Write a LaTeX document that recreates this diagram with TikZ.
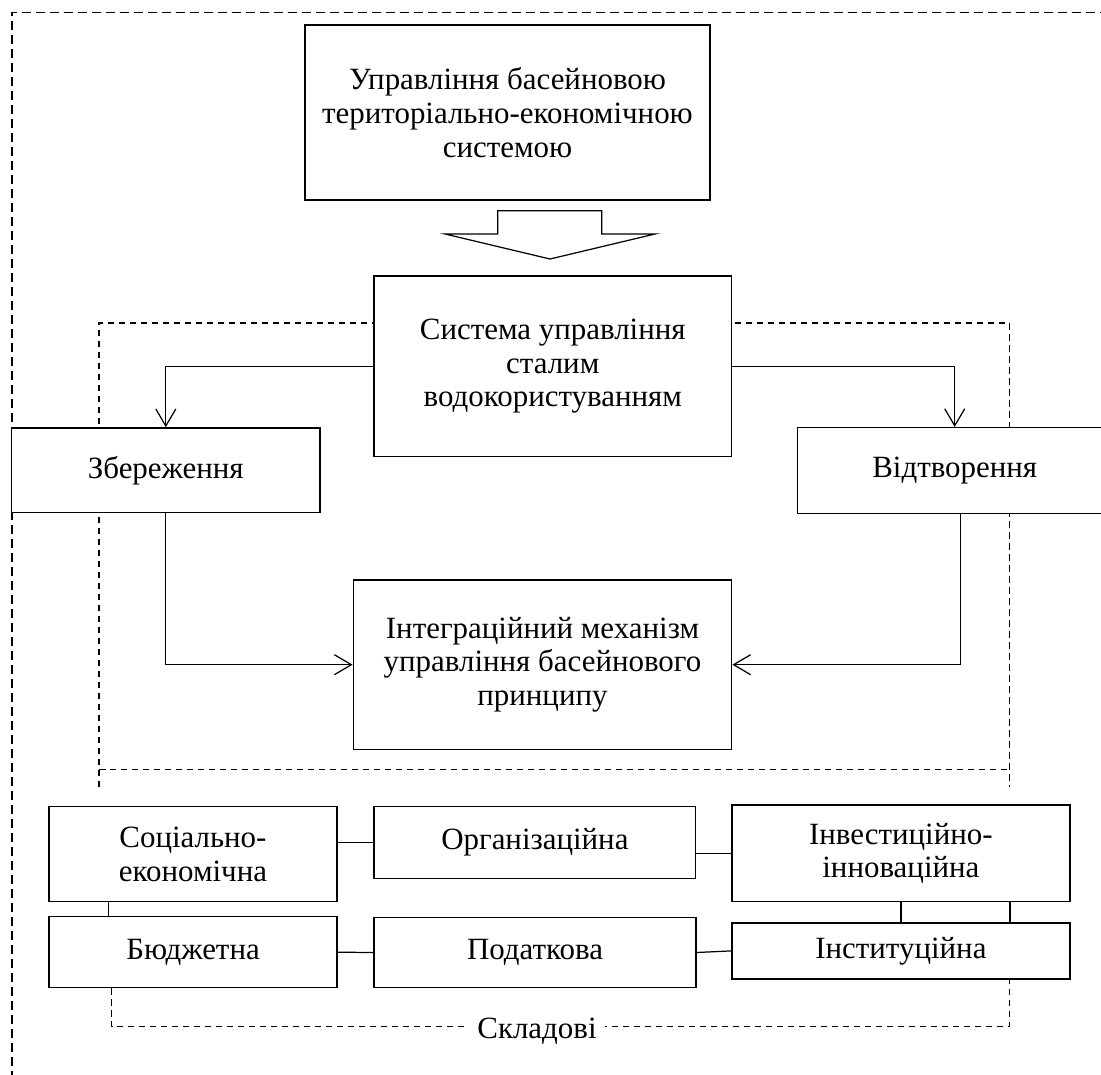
\documentclass[tikz,border=0pt]{standalone}
\usepackage{fontspec}
\setmainfont{Liberation Serif}
\usetikzlibrary{arrows.meta,positioning}
\tikzset{
  box/.style={draw, line width=0.85pt, fill=white, align=center, inner sep=0pt},
  link/.style={line width=0.7pt},
  tip/.style={-{Straight Barb[length=0.34cm,width=0.4cm,line width=0.7pt]}},
  frame/.style={line width=0.7pt, dash pattern=on 0.13cm off 0.09cm},
  outframe/.style={line width=0.6pt, dash pattern=on 0.18cm off 0.1cm}
}
\begin{document}
\begin{tikzpicture}[x=0.02cm,y=-0.02cm,font=\fontsize{17.6}{19.2}\selectfont]
        \useasboundingbox (0,0) rectangle (1101,1074);
        \clip (0,0) rectangle (1101,1074);
        % dashed frames
        \draw[outframe] (12,1080) -- (12,12.7) -- (1110,12.7);
        \draw[frame] (99,787) -- (99,323) -- (1009.3,323) -- (1009.3,787);
        \draw[frame] (99,769.5) -- (1009.3,769.5);
        \draw[frame] (111.7,988) -- (111.7,1026.7) -- (1009.3,1026.7) -- (1009.3,979);
        \node[fill=white, inner xsep=0.16cm, inner ysep=0pt] (sklad) at (537,1031) {Складові};
        % top part
        \node[box, minimum width=8.1cm, minimum height=3.5cm] (upr) at (507.5,112.5) {Управління басейновою\\територіально-економічною\\системою};
        \draw[link, fill=white] (497.7,210.7) -- (601.7,210.7) -- (601.7,234) -- (655,234) -- (550,259) -- (445,234) -- (497.7,234) -- cycle;
        \node[box, minimum width=7.154cm, minimum height=3.614cm] (sys) at (552.8,366.3) {Система управління\\сталим\\водокористуванням};
        \node[box, minimum width=6.166cm, minimum height=1.694cm] (zber) at (165.8,470.3) {Збереження};
        \node[box, minimum width=6.28cm, minimum height=1.712cm] (vidtv) at (954.7,470.5) {Відтворення};
        \node[box, minimum width=7.568cm, minimum height=3.386cm] (integr) at (542.5,664.7) {Інтеграційний механізм\\управління басейнового\\принципу};
        % components
        \node[box, minimum width=5.76cm, minimum height=1.9cm] (soc) at (193,854.2) {Соціально-\\економічна};
        \node[box, minimum width=6.434cm, minimum height=1.432cm] (org) at (534.9,842.5) {Організаційна};
        \node[box, minimum width=6.766cm, minimum height=1.934cm] (inv) at (900.9,853.4) {Інвестиційно-\\інноваційна};
        \node[box, minimum width=5.76cm, minimum height=1.42cm] (budg) at (193,952.2) {Бюджетна};
        \node[box, minimum width=6.44cm, minimum height=1.408cm] (podat) at (535,952.5) {Податкова};
        \node[box, minimum width=6.766cm, minimum height=1.126cm] (inst) at (900.9,950.9) {Інституційна};
        % arrows
        \draw[link,tip] (sys.west) -| (zber.north);
        \draw[link,tip] (sys.east) -| (vidtv.north);
        \draw[link,tip] (zber.south) |- (integr.west);
        \draw[link,tip] ([xshift=0.12cm]vidtv.south) |- (integr.east);
        \draw[link] (soc.east |- org.west) -- (org.west);
        \draw[link] (org.east |- inv.west) -- (inv.west);
        \draw[link] ([xshift=1.2cm]soc.south west) -- ([xshift=1.2cm]budg.north west);
        \draw[link] (budg.east) -- (podat.west);
        \draw[link] (podat.east) -- (inst.west);
        \draw[link] (inv.south) -- (inst.north);
        \draw[link] ([xshift=-1.214cm]inv.south east) -- ([xshift=-1.214cm]inst.north east);
      \end{tikzpicture}
\end{document}
